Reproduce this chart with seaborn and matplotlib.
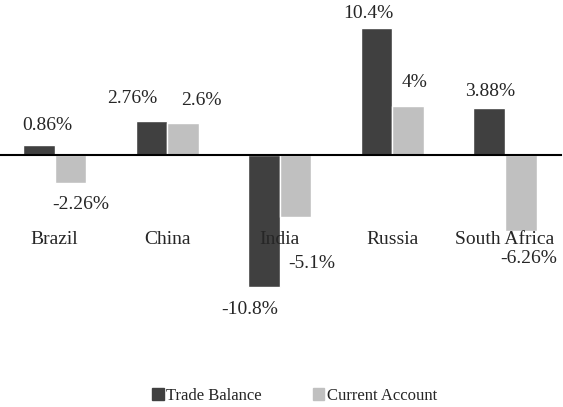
import pandas as pd
import matplotlib
matplotlib.use("Agg")
import matplotlib.pyplot as plt
import seaborn as sns

countries = ["Brazil", "China", "India", "Russia", "South Africa"]
trade_balance = [0.86, 2.76, -10.8, 10.4, 3.88]
current_account = [-2.26, 2.6, -5.1, 4.0, -6.26]
series = ["Trade Balance", "Current Account"]
colors = ["#404040", "#c0c0c0"]

# label offsets from bar end (pixels, x right / y up)
tb_offsets = [(8, 19), (-19, 23), (-14, -23), (-8, 15), (1, 16)]
ca_offsets = [(10, -22), (18, 23), (16, -46), (6, 24), (8, -27)]

df = pd.DataFrame({
    "Country": countries * 2,
    "Series": [series[0]] * len(countries) + [series[1]] * len(countries),
    "Value": trade_balance + current_account,
})

sns.set_style("white")
plt.rcParams["font.family"] = ["Liberation Serif", "DejaVu Serif"]

fig = plt.figure(figsize=(5.63, 4.07), dpi=100)
ax = fig.add_axes([-0.003, 0.1995, 1.0, 0.7794])
sns.barplot(data=df, x="Country", y="Value", hue="Series", palette=colors,
            width=0.56, saturation=1, ax=ax, legend=False, errorbar=None)

ax.set_xlim(-0.5, 4.5)
ax.set_ylim(-14, 12)
ax.set_axisbelow(False)
for s in ["left", "right", "top"]:
    ax.spines[s].set_visible(False)
ax.spines["bottom"].set_position(("data", 0))
ax.spines["bottom"].set_linewidth(1.5)
ax.spines["bottom"].set_color("black")
ax.spines["bottom"].set_zorder(3)
ax.set_yticks([])
ax.set_xlabel("")
ax.set_ylabel("")
ax.set_xticks(range(len(countries)))
ax.set_xticklabels(countries, fontsize=14)
ax.tick_params(axis="x", which="major", length=0, pad=55)
ax.set_xticks([i - 0.5 for i in range(len(countries) + 1)], minor=True)
ax.tick_params(axis="x", which="minor", length=4.5, width=1.5, color="black", direction="out")
ax.xaxis.set_zorder(4)

for cont, offs, vals in zip(ax.containers, [tb_offsets, ca_offsets], [trade_balance, current_account]):
    for bar, (dx, dy), v in zip(cont, offs, vals):
        xc = bar.get_x() + bar.get_width() / 2
        txt = f"{v:g}%"
        ax.annotate(txt, xy=(xc, v), xytext=(dx, dy), textcoords="offset pixels",
                    ha="center", va="center", fontsize=14, zorder=5)

handles = [plt.Rectangle((0, 0), 1, 1, color=c) for c in colors]
fig.legend(handles, series, loc="center", bbox_to_anchor=(294.5 / 563, 1 - 396 / 407),
           ncol=2, frameon=False, fontsize=12, handlelength=0.7, handleheight=0.7,
           handletextpad=0.15, columnspacing=3.05)

fig.savefig("out.png", dpi=100)
